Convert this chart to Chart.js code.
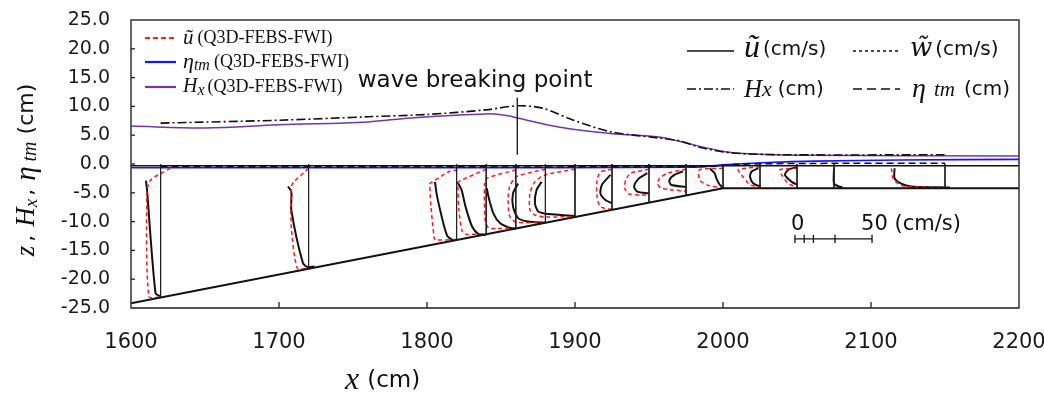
<!DOCTYPE html>
<html>
<head>
<meta charset="utf-8">
<script src="https://cdn.jsdelivr.net/npm/chart.js@4.4.1/dist/chart.umd.min.js"></script>
<style>
  html, body { margin: 0; padding: 0; background: #fff; }
  canvas { display: block; }
</style>
</head>
<body>
<canvas id="profileChart" width="1044" height="397"></canvas>
<script>
// bottom (bed) line
const bedX = [1600, 2000, 2200];
const bedZ = [-24.2, -4.2, -4.2];

// still water line and mean water levels
const swlX = [1600, 2200];
const swlZ = [-0.3, -0.3];
const etaQ3dX = [1600, 1800, 1980, 2000, 2030, 2063, 2120, 2200];
const etaQ3dZ = [-0.65, -0.65, -0.55, -0.15, 0.25, 0.5, 0.7, 0.8];
const etaMeasX = [1620, 1990, 2010, 2060, 2150];
const etaMeasZ = [-0.45, -0.45, -0.05, 0.1, 0.15];

// wave height Hx
const hxMeasX = [1620, 1700, 1760, 1800, 1840, 1861, 1878, 1899, 1924, 1957, 1971, 1984, 2007, 2045, 2150];
const hxMeasZ = [7.1, 7.6, 8.2, 8.6, 9.4, 10.1, 9.7, 7.6, 5.6, 4.5, 4.0, 2.9, 1.9, 1.6, 1.6];
const hxQ3dX = [1600, 1650, 1700, 1760, 1789, 1840, 1854, 1861, 1890, 1924, 1957, 1971, 1996, 2011, 2050, 2200];
const hxQ3dZ = [6.6, 6.25, 6.8, 7.3, 8.0, 8.7, 8.4, 8.0, 6.4, 5.3, 4.7, 3.9, 2.4, 1.85, 1.5, 1.4];

// breaking point marker
const breakX = 1861;
const breakZ = [1.6, 11.5];

// velocity profiles (z in cm, u in cm/s)
const stations = [1620, 1720, 1820, 1840, 1860, 1880, 1900, 1925, 1950, 1975, 2000, 2025, 2050, 2075, 2150];
const measZ = [
  [-2.9, -4.2, -22.4, -23.0],
  [-3.9, -4.8, -8.0, -17.2, -17.9, -17.8],
  [-3.1, -5.1, -7.4, -10.9, -12.6, -13.2],
  [-3.1, -4.5, -7.4, -10.9, -12.2, -12.3],
  [-4.2, -5.7, -8.6, -10.3, -11.1, -11.2],
  [-3.4, -5.1, -7.4, -9.4, -10.0, -10.2],
  [-3.1, -4.5, -6.8, -8.25, -8.7, -9.0],
  [-1.9, -3.6, -5.1, -6.25, -6.8],
  [-1.6, -2.5, -3.9, -4.8, -5.1],
  [-1.3, -1.9, -2.8, -3.6, -4.0],
  [-0.75, -1.6, -2.5, -3.6, -4.0],
  [-0.75, -1.3, -2.2, -3.4, -3.9],
  [-0.5, -1.0, -1.9, -3.1, -3.6],
  [-0.75, -3.4, -3.9, -4.0],
  [-0.75, -2.5, -3.4, -3.9, -4.05, -4.1]
];
const measU = [
  [-9.5, -8.9, -3.3, 0],
  [-13.4, -11.2, -11.2, -3.7, -0.5, 3.9],
  [-14, -13, -11.2, -8, -5.8, -2.6],
  [-18.8, -16, -13.4, -9.1, -4.8, 0],
  [-18.8, -17.7, -14.5, -10.1, -3.6, 0],
  [-17.7, -21, -21, -17.7, -11.2, 0],
  [-21.7, -24.9, -26, -23.8, -17.3, 0],
  [-1, -6.5, -7.5, -4.3, 0],
  [-1.1, -6.5, -9.7, -7.6, 0],
  [-2.1, -7.6, -10.8, -9.7, 0],
  [-8.6, -5.4, -4.3, -2.1, 0],
  [-1.1, -5.4, -6.5, -4.3, 0],
  [0, -5.6, -7.8, -3.4, 0],
  [0, 0, 3.2, 5.4],
  [-32.7, -32.7, -28.4, -21.9, -3, 3.2]
];
const q3dZ = [
  [-0.75, -2.8, -5.0, -23.0, -23.1],
  [-0.75, -3.1, -3.9, -10.9, -18.1, -18.1],
  [-1.0, -1.3, -3.1, -3.4, -7.4, -12.9, -13.2, -13.1],
  [-0.9, -2.9, -3.4, -8.0, -11.7, -12.2, -12.1],
  [-1.0, -2.5, -3.6, -9.7, -11.1, -11.2, -11.1],
  [-0.9, -2.2, -3.9, -6.25, -9.1, -10.1, -10.1],
  [-0.9, -1.9, -3.1, -5.1, -8.0, -8.85, -9.2, -9.1],
  [-0.9, -1.4, -2.8, -5.7, -7.4, -7.9],
  [-0.9, -1.6, -2.8, -4.2, -5.2, -5.4],
  [-0.9, -1.6, -2.5, -3.4, -4.2, -4.5, -4.7],
  [-0.75, -1.0, -2.8, -3.8, -4.1],
  [-0.5, -1.0, -1.9, -3.6, -4.0],
  [-0.75, -1.0, -1.9, -3.4, -4.0],
  [],
  [-0.75, -2.5, -3.4, -3.9, -4.1]
];
const q3dU = [
  [6.3, -6.5, -8.9, -7.6, 0],
  [0, -9.5, -11.2, -11.2, -7.3, -0.5],
  [0.6, -4.8, -15.6, -17.3, -16.6, -14.5, -13.4, 0],
  [0, -16.6, -18.2, -17.7, -15.6, -13.4, 0],
  [0, -18.8, -20.3, -19.9, -17.7, -13.4, 0],
  [0, -18.8, -23.1, -24.2, -23.1, -18.8, 0],
  [0, -19.5, -26, -29.2, -29.2, -26, -19.5, 0],
  [0, -7.5, -9.7, -9.7, -7.5, 0],
  [0, -11.9, -15.1, -15.8, -13, 0],
  [0, -11.9, -17.3, -18.4, -16.2, -8.7, 0],
  [0, -15.1, -15.1, -8.6, 0],
  [0, -14, -11.9, -6.5, 0],
  [0, -11, -9.9, -5.6, 0],
  [],
  [-34.8, -33.7, -30.5, -26.2, 0]
];

// velocity scale bar (cm/s)
const velScale = 1.042;       // cm of x per cm/s
const barOriginX = 2048.6;
const barZ = -13.0;
const barTicks = [0, 6, 12, 26, 50];

const RED = '#ff1a1a';
const BLUE = '#1414ff';
const PURPLE = '#7236a8';

function pts(xs, zs) {
  return xs.map((x, i) => ({ x: x, y: zs[i] }));
}
function bedAt(x) {
  for (let i = 0; i < bedX.length - 1; i++) {
    if (x >= bedX[i] && x <= bedX[i + 1]) {
      const t = (x - bedX[i]) / (bedX[i + 1] - bedX[i]);
      return bedZ[i] + t * (bedZ[i + 1] - bedZ[i]);
    }
  }
  return bedZ[bedZ.length - 1];
}
function line(data, color, width, dash, tension) {
  return {
    data: data, showLine: true, pointRadius: 0, borderColor: color,
    borderWidth: width, borderDash: dash || [], tension: tension || 0, fill: false
  };
}

const datasets = [];
datasets.push(line(pts(bedX, bedZ), '#111', 2));
datasets.push(line(pts(swlX, swlZ), '#111', 1.5));
datasets.push(line(pts(etaMeasX, etaMeasZ), '#111', 1.5, [7, 4], 0.3));
datasets.push(line(pts(hxMeasX, hxMeasZ), '#111', 1.6, [9, 3, 2, 3], 0.3));
datasets.push(line([{ x: breakX, y: breakZ[0] }, { x: breakX, y: breakZ[1] }], '#111', 1.3));

stations.forEach((s, i) => {
  datasets.push(line([{ x: s, y: 0 }, { x: s, y: bedAt(s) }], '#222', 1));
  if (q3dU[i].length) {
    datasets.push(line(q3dU[i].map((u, j) => ({ x: s + u * velScale, y: q3dZ[i][j] })), RED, 1.5, [4, 3], 0.25));
  }
  datasets.push(line(measU[i].map((u, j) => ({ x: s + u * velScale, y: measZ[i][j] })), '#111', 2, [], 0.25));
});

datasets.push(line(pts(etaQ3dX, etaQ3dZ), BLUE, 1.6, [], 0.3));
datasets.push(line(pts(hxQ3dX, hxQ3dZ), PURPLE, 1.5, [], 0.35));

// scale bar
datasets.push(line([{ x: barOriginX, y: barZ }, { x: barOriginX + 50 * velScale, y: barZ }], '#111', 1.3));
barTicks.forEach(v => {
  const bx = barOriginX + v * velScale;
  datasets.push(line([{ x: bx, y: barZ - 0.7 }, { x: bx, y: barZ + 0.7 }], '#111', 1.3));
});

function drawRuns(ctx, x, y, runs) {
  let cx = x;
  runs.forEach(r => {
    ctx.font = r.f;
    ctx.fillText(r.t, cx, y + (r.dy || 0));
    cx += ctx.measureText(r.t).width + (r.gap || 0);
  });
  return cx - x;
}
function runsWidth(ctx, runs) {
  let w = 0;
  runs.forEach(r => { ctx.font = r.f; w += ctx.measureText(r.t).width + (r.gap || 0); });
  return w;
}

const SANS = '"DejaVu Sans", sans-serif';

const framePlugin = {
  id: 'frame',
  afterDraw(chart) {
    const ctx = chart.ctx;
    const a = chart.chartArea;
    const xs = chart.scales.x, ys = chart.scales.y;
    ctx.save();
    // frame
    ctx.strokeStyle = '#333';
    ctx.lineWidth = 1.5;
    ctx.strokeRect(a.left, a.top, a.right - a.left, a.bottom - a.top);
    ctx.strokeStyle = '#555';
    ctx.lineWidth = 2.2;
    ctx.beginPath(); ctx.moveTo(a.left, a.bottom); ctx.lineTo(a.right, a.bottom); ctx.stroke();
    // inner ticks
    ctx.strokeStyle = '#222';
    ctx.lineWidth = 1.3;
    for (let v = 1700; v < 2200; v += 100) {
      const px = xs.getPixelForValue(v);
      ctx.beginPath(); ctx.moveTo(px, a.bottom); ctx.lineTo(px, a.bottom - 6); ctx.stroke();
    }
    for (let v = -20; v < 25; v += 5) {
      const py = ys.getPixelForValue(v);
      ctx.beginPath(); ctx.moveTo(a.left, py); ctx.lineTo(a.left + 4, py); ctx.stroke();
    }

    ctx.fillStyle = '#111';
    ctx.textBaseline = 'middle';
    ctx.textAlign = 'left';

    // wave breaking point
    ctx.font = '23px ' + SANS;
    ctx.textAlign = 'center';
    ctx.fillText('wave breaking point', xs.getPixelForValue(1832.5), ys.getPixelForValue(14.4));
    ctx.textAlign = 'left';

    // scale bar labels
    ctx.font = '21px ' + SANS;
    ctx.fillText('0', xs.getPixelForValue(barOriginX) - 4, ys.getPixelForValue(barZ + 2.5));
    ctx.fillText('50 (cm/s)', xs.getPixelForValue(barOriginX + 50 * velScale) - 11, ys.getPixelForValue(barZ + 2.5));

    // right legend (original figure)
    ctx.strokeStyle = '#111';
    ctx.lineWidth = 1.5;
    const legLines = [
      { x: 687, y: 51, dash: [] },
      { x: 853, y: 51, dash: [3, 3] },
      { x: 687, y: 89, dash: [9, 3, 2, 3] },
      { x: 853, y: 89, dash: [9, 5] }
    ];
    legLines.forEach(l => {
      ctx.setLineDash(l.dash);
      ctx.beginPath(); ctx.moveTo(l.x, l.y); ctx.lineTo(l.x + 47, l.y); ctx.stroke();
    });
    ctx.setLineDash([]);
    drawRuns(ctx, 744, 50, [
      { t: '\u0169', f: 'italic 32px "Liberation Serif", serif', dy: -1, gap: 3 },
      { t: '(cm/s)', f: '20px ' + SANS }
    ]);
    drawRuns(ctx, 910, 50, [
      { t: 'w\u0303', f: 'italic 26px "DejaVu Serif", serif', dy: -1, gap: 3 },
      { t: '(cm/s)', f: '20px ' + SANS }
    ]);
    drawRuns(ctx, 744, 90, [
      { t: 'H', f: 'italic 25px "Liberation Serif", serif' },
      { t: 'x', f: 'italic 22px "Liberation Serif", serif', gap: 6 },
      { t: '(cm)', f: '20px ' + SANS }
    ]);
    drawRuns(ctx, 912, 90, [
      { t: '\u03B7', f: 'italic 28px "Liberation Serif", serif', dy: 0, gap: 8 },
      { t: 'tm', f: 'italic 21px "Liberation Serif", serif', gap: 9 },
      { t: '(cm)', f: '20px ' + SANS }
    ]);

    // left legend (Q3D-FEBS-FWI)
    const q3dLeg = [
      { y: 38, color: RED, dash: [5, 3], runs: [
        { t: '\u0169', f: 'italic 21px "Liberation Serif", serif', gap: 4 } ] },
      { y: 62, color: BLUE, dash: [], runs: [
        { t: '\u03B7', f: 'italic 22px "Liberation Serif", serif' },
        { t: 'tm', f: 'italic 16px "Liberation Serif", serif', dy: 4, gap: 4 } ] },
      { y: 87, color: PURPLE, dash: [], runs: [
        { t: 'H', f: 'italic 20px "Liberation Serif", serif' },
        { t: 'x', f: 'italic 16px "Liberation Serif", serif', dy: 4, gap: 3 } ] }
    ];
    q3dLeg.forEach(l => {
      ctx.strokeStyle = l.color;
      ctx.lineWidth = 2.2;
      ctx.setLineDash(l.dash);
      ctx.beginPath(); ctx.moveTo(145, l.y); ctx.lineTo(176, l.y); ctx.stroke();
      ctx.setLineDash([]);
      const runs = l.runs.concat([{ t: '(Q3D-FEBS-FWI)', f: '18px "Liberation Serif", serif' }]);
      drawRuns(ctx, 183, l.y, runs);
    });

    // x axis title
    ctx.fillStyle = '#111';
    drawRuns(ctx, 345, 381, [
      { t: 'x', f: 'italic 32px "Liberation Serif", serif', gap: 8 },
      { t: '(cm)', f: '23px ' + SANS }
    ]);

    // y axis title (rotated)
    const yRuns = [
      { t: 'z', f: 'italic 27px "Liberation Serif", serif', gap: 4 },
      { t: ',', f: '22px ' + SANS, gap: 8 },
      { t: 'H', f: 'italic 27px "Liberation Serif", serif' },
      { t: 'x', f: 'italic 19px "Liberation Serif", serif', dy: 5, gap: 3 },
      { t: ',', f: '22px ' + SANS, gap: 8 },
      { t: '\u03B7', f: 'italic 29px "Liberation Serif", serif' },
      { t: ' tm', f: 'italic 20px "Liberation Serif", serif', dy: 4, gap: 7 },
      { t: '(cm)', f: '22px ' + SANS }
    ];
    ctx.translate(27, 170);
    ctx.rotate(-Math.PI / 2);
    const w = runsWidth(ctx, yRuns);
    drawRuns(ctx, -w / 2, 0, yRuns);
    ctx.restore();
  }
};

new Chart(document.getElementById('profileChart'), {
  type: 'scatter',
  data: { datasets: datasets },
  options: {
    responsive: false,
    animation: false,
    layout: { autoPadding: false, padding: { top: 20, right: 25, left: 0, bottom: 0 } },
    plugins: { legend: { display: false }, tooltip: { enabled: false } },
    scales: {
      x: {
        type: 'linear', min: 1600, max: 2200,
        grid: { display: false, drawTicks: false },
        border: { display: false },
        ticks: { stepSize: 100, padding: 22, color: '#1a1a1a', font: { family: 'DejaVu Sans', size: 21 },
          callback: v => String(v) },
        afterFit: s => { s.height = 89; s.paddingLeft = 0; s.paddingRight = 0; }
      },
      y: {
        type: 'linear', min: -25, max: 25,
        grid: { display: false, drawTicks: false },
        border: { display: false },
        ticks: { stepSize: 5, padding: 21, color: '#1a1a1a', font: { family: 'DejaVu Sans', size: 19 },
          callback: v => v.toFixed(1) },
        afterFit: s => { s.width = 131; s.paddingTop = 0; s.paddingBottom = 0; }
      }
    }
  },
  plugins: [framePlugin]
});
</script>
</body>
</html>
